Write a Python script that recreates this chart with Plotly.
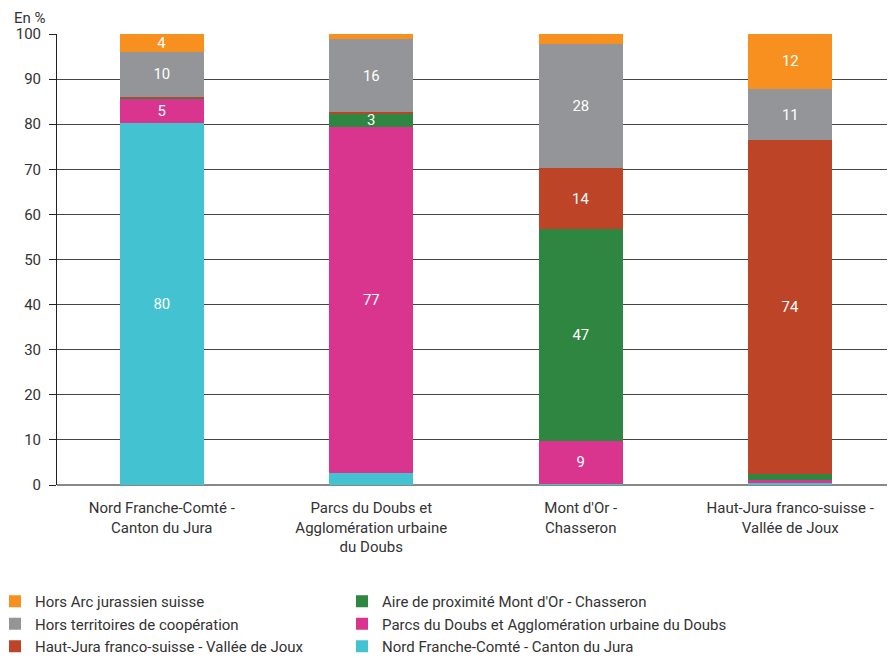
import plotly.graph_objects as go

categories = [
    "Nord Franche-Comté -<br>Canton du Jura",
    "Parcs du Doubs et<br>Agglomération urbaine<br>du Doubs",
    "Mont d'Or -<br>Chasseron",
    "Haut-Jura franco-suisse -<br>Vallée de Joux",
]

# Stack order bottom -> top
nord = [80.3, 2.6, 0.3, 0.4]
parcs = [5.3, 76.8, 9.4, 0.7]
aire = [0.3, 3.0, 47.0, 1.3]
hautjura = [0.2, 0.2, 13.6, 74.0]
hors_terr = [10.0, 16.3, 27.5, 11.4]
hors_arc = [3.9, 1.1, 2.2, 12.2]

# (name, values, colour, legend column, rank within column)
series = [
    ("Nord Franche-Comté - Canton du Jura", nord, "#43C3D1", "legend2", 3),
    ("Parcs du Doubs et Agglomération urbaine du Doubs", parcs, "#D9348E", "legend2", 2),
    ("Aire de proximité Mont d'Or - Chasseron", aire, "#2E8640", "legend2", 1),
    ("Haut-Jura franco-suisse - Vallée de Joux", hautjura, "#BE4428", "legend", 3),
    ("Hors territoires de coopération", hors_terr, "#939598", "legend", 2),
    ("Hors Arc jurassien suisse", hors_arc, "#F7901E", "legend", 1),
]

FONT = "Roboto, sans-serif"
FS = 15
W, H = 887, 650  # page has an 8px body margin

fig = go.Figure()
for name, vals, color, leg, rank in series:
    labels = [str(round(v)) if v >= 3 else "" for v in vals]
    fig.add_trace(go.Bar(
        x=categories, y=vals, name=name,
        marker=dict(color=color, line=dict(width=0)),
        text=labels, textposition="inside", insidetextanchor="middle",
        textangle=0,
        textfont=dict(color="white", size=FS, family=FONT),
        legend=leg, legendrank=rank,
        hoverinfo="skip",
    ))

legend_common = dict(
    orientation="v", traceorder="normal",
    xref="container", yref="container",
    xanchor="left", yanchor="top",
    indentation=-13, tracegroupgap=0,
    font=dict(size=FS, family=FONT, color="#333333"),
    itemclick=False, bgcolor="rgba(0,0,0,0)",
)

fig.update_layout(
    barmode="stack",
    bargap=0.6,
    width=W, height=H,
    margin=dict(l=49, r=0, t=26, b=173, autoexpand=False),
    plot_bgcolor="white", paper_bgcolor="white",
    font=dict(family=FONT, size=FS, color="#333333"),
    uniformtext=dict(mode="show", minsize=10),
    showlegend=True,
    legend=dict(legend_common, x=0.0, y=1 - 577 / H),
    legend2=dict(legend_common, x=347 / W, y=1 - 577 / H),
    xaxis=dict(
        range=[-0.5, 3.5], showgrid=False, ticks="", showline=False,
        ticklabelstandoff=12,
        tickfont=dict(size=FS, family=FONT, color="#333333"),
    ),
    yaxis=dict(
        range=[0, 100], dtick=10, showgrid=True, gridcolor="#444444", gridwidth=1,
        zeroline=True, zerolinecolor="#888888", zerolinewidth=2,
        showline=True, linecolor="#222222", linewidth=1,
        ticks="outside", ticklen=7, tickcolor="#222222",
        ticklabelstandoff=5,
        tickfont=dict(size=FS, family=FONT, color="#333333"),
    ),
    annotations=[dict(
        text="En %", xref="paper", yref="paper", x=-0.054, y=1.0, yshift=16,
        xanchor="left", yanchor="middle", showarrow=False,
        font=dict(size=FS, family=FONT, color="#333333"),
    )],
)

fig.write_html("out.html")
